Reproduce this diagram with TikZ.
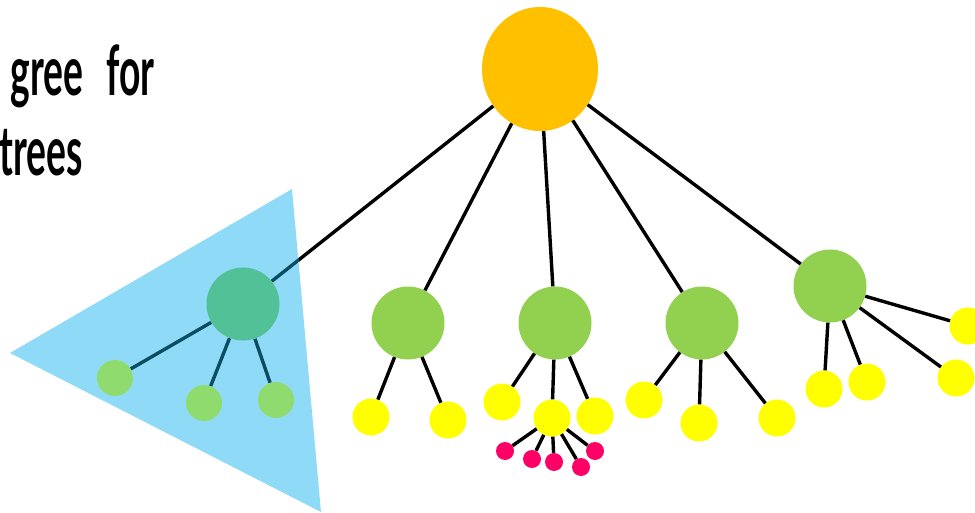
\documentclass[tikz,border=0pt]{standalone}
\usepackage{fontspec}
\newfontfamily\titlefont[FakeStretch=0.54]{Lato}
\usetikzlibrary{shapes.geometric}
\definecolor{rootc}{HTML}{FFC000}
\definecolor{greenc}{HTML}{92D050}
\definecolor{yellowc}{HTML}{FFFF00}
\definecolor{pinkc}{HTML}{FF0066}
\definecolor{trib}{HTML}{8FDBF7}
\definecolor{tealc}{HTML}{52C198}
\definecolor{smallg}{HTML}{8FDB6E}
\definecolor{darkedge}{HTML}{0A4D62}
\tikzset{
  rootnode/.style={ellipse,fill=rootc,inner sep=0pt,minimum width=116pt,minimum height=124pt},
  midnode/.style={circle,fill=greenc,inner sep=0pt,minimum size=73pt},
  subroot/.style={circle,fill=tealc,inner sep=0pt,minimum size=73pt},
  subleaf/.style={circle,fill=smallg,inner sep=0pt,minimum size=36pt},
  leaf/.style={circle,fill=yellowc,inner sep=0pt,minimum size=37pt},
  tiny/.style={circle,fill=pinkc,inner sep=0pt,minimum size=18pt},
  edge/.style={line width=3.4pt,black},
  tedge/.style={line width=3.4pt,darkedge},
  title/.style={inner sep=0pt,font=\titlefont\bfseries\fontsize{69}{72}\selectfont}
}
\begin{document}
\begin{tikzpicture}[x=1pt,y=-1pt]
\useasboundingbox (0,0) rectangle (975,513);
\clip (0,0) rectangle (975,513);
% text
\node[title,anchor=base east] (t1) at (155,96) {gree\hspace{14pt} for};
\node[title,anchor=base east] (t2) at (83,176) {trees};
% nodes
\node[rootnode] (root) at (540,69) {};
\node[subroot] (S) at (243,304) {};
\node[subleaf] (s1) at (115,378) {};
\node[subleaf] (s2) at (204,403) {};
\node[subleaf] (s3) at (276,400) {};
\node[midnode] (A) at (408,323) {};
\node[midnode] (B) at (555,323) {};
\node[midnode] (C) at (702,323) {};
\node[midnode] (D) at (830,286) {};
\node[leaf] (a1) at (371,417) {};
\node[leaf] (a2) at (448,420) {};
\node[leaf] (b1) at (502,402) {};
\node[leaf] (b2) at (552,418) {};
\node[leaf] (b3) at (595,416) {};
\node[leaf] (c1) at (644,400) {};
\node[leaf] (c2) at (699,423) {};
\node[leaf] (c3) at (777,418) {};
\node[leaf] (d1) at (824,389) {};
\node[leaf] (d2) at (867,382) {};
\node[leaf] (d3) at (956,378) {};
\node[leaf] (d4) at (968,326) {};
\node[tiny] (p1) at (505,451) {};
\node[tiny] (p2) at (532,459) {};
\node[tiny] (p3) at (554,462) {};
\node[tiny] (p4) at (581,467) {};
\node[tiny] (p5) at (595,451) {};
% edges
\draw[edge] (root) -- (S);
\draw[edge] (root) -- (A);
\draw[edge] (root) -- (B);
\draw[edge] (root) -- (C);
\draw[edge] (root) -- (D);
\draw[edge] (A) -- (a1);
\draw[edge] (A) -- (a2);
\draw[edge] (B) -- (b1);
\draw[edge] (B) -- (b2);
\draw[edge] (B) -- (b3);
\draw[edge] (C) -- (c1);
\draw[edge] (C) -- (c2);
\draw[edge] (C) -- (c3);
\draw[edge] (D) -- (d1);
\draw[edge] (D) -- (d2);
\draw[edge] (D) -- (d3);
\draw[edge] (D) -- (d4);
\draw[edge] (b2) -- (p1);
\draw[edge] (b2) -- (p2);
\draw[edge] (b2) -- (p3);
\draw[edge] (b2) -- (p4);
\draw[edge] (b2) -- (p5);
% subtree triangle
\fill[trib] (10,353) -- (292,189) -- (321,512) -- cycle;
\begin{scope}
\clip (10,353) -- (292,189) -- (321,512) -- cycle;
\draw[tedge] (root) -- (S);
\end{scope}
\draw[tedge] (S) -- (s1);
\draw[tedge] (S) -- (s2);
\draw[tedge] (S) -- (s3);
\node[subroot] at (S) {};
\node[subleaf] at (s1) {};
\node[subleaf] at (s2) {};
\node[subleaf] at (s3) {};
\end{tikzpicture}
\end{document}
